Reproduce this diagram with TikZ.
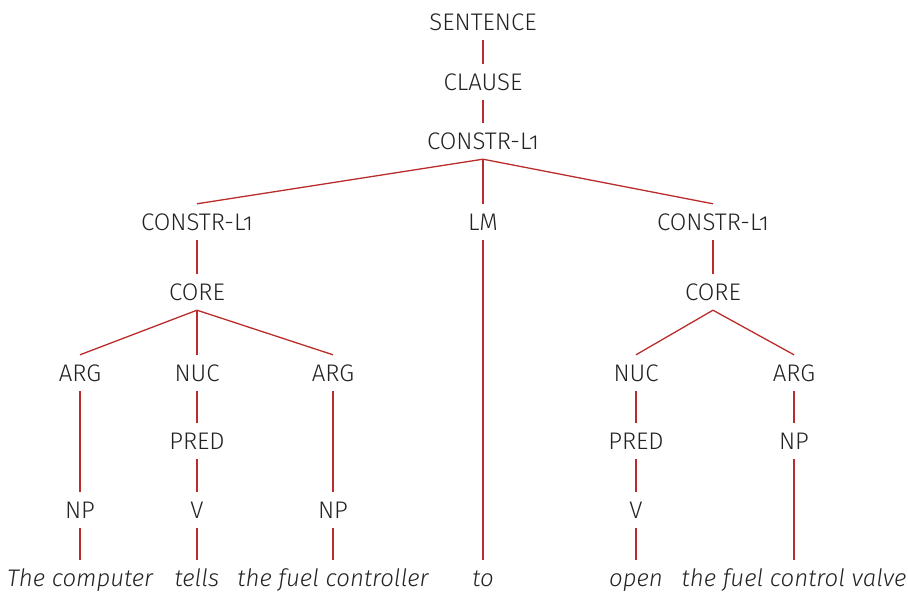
\documentclass[tikz,border=0pt]{standalone}
\usepackage{fontspec}
\setmainfont{Fira Sans}[UprightFont=* Light, ItalicFont=* Light Italic, Numbers=OldStyle]
\definecolor{edgered}{RGB}{186,44,44}
\definecolor{txtgray}{RGB}{34,34,34}

\begin{document}
\begin{tikzpicture}[x=1pt, y=-1pt,
    lbl/.style={inner sep=0pt, minimum height=36pt, text height=16.5pt, text depth=0pt, text=txtgray, font=\fontsize{24}{28}\selectfont},
    word/.style={lbl, font=\fontsize{24}{28}\selectfont\itshape},
    edge/.style={edgered, line width=1.3pt}]

\useasboundingbox (0,0) rectangle (908,593);

% upper spine
\node[lbl] (sent) at (483,22) {SENTENCE};
\node[lbl] (clause) at (483,82) {CLAUSE};
\node[lbl] (cons) at (483,141) {CONSTR-L1};

\node[lbl] (consL) at (197,222) {CONSTR-L1};
\node[lbl] (lm) at (483,222) {LM};
\node[lbl] (consR) at (713,222) {CONSTR-L1};

% left core
\node[lbl] (coreL) at (197,292) {CORE};
\node[lbl] (argA) at (80,373) {ARG};
\node[lbl] (nucL) at (197,373) {NUC};
\node[lbl] (argB) at (333,373) {ARG};
\node[lbl] (predL) at (197,441) {PRED};
\node[lbl] (npA) at (80,510) {NP};
\node[lbl] (vL) at (197,510) {V};
\node[lbl] (npB) at (333,510) {NP};

% right core
\node[lbl] (coreR) at (713,292) {CORE};
\node[lbl] (nucR) at (636,373) {NUC};
\node[lbl] (argC) at (794,373) {ARG};
\node[lbl] (predR) at (636,441) {PRED};
\node[lbl] (npC) at (794,441) {NP};
\node[lbl] (vR) at (636,510) {V};

% words
\node[word] (w1) at (80,578) {The computer};
\node[word] (w2) at (197,578) {tells};
\node[word] (w3) at (333,578) {the fuel controller};
\node[word] (w4) at (483,578) {to};
\node[word] (w5) at (636,578) {open};
\node[word] (w6) at (794,578) {the fuel control valve};

\draw[edge] (sent.south) -- (clause.north);
\draw[edge] (clause.south) -- (cons.north);
\foreach \c in {consL, lm, consR}
    \draw[edge] (cons.south) -- (\c.north);

\draw[edge] (consL.south) -- (coreL.north);
\foreach \c in {argA, nucL, argB}
    \draw[edge] (coreL.south) -- (\c.north);
\draw[edge] (argA.south) -- (npA.north);
\draw[edge] (nucL.south) -- (predL.north);
\draw[edge] (predL.south) -- (vL.north);
\draw[edge] (argB.south) -- (npB.north);

\draw[edge] (consR.south) -- (coreR.north);
\foreach \c in {nucR, argC}
    \draw[edge] (coreR.south) -- (\c.north);
\draw[edge] (nucR.south) -- (predR.north);
\draw[edge] (predR.south) -- (vR.north);
\draw[edge] (argC.south) -- (npC.north);

\draw[edge] (npA.south) -- (w1.north);
\draw[edge] (vL.south) -- (w2.north);
\draw[edge] (npB.south) -- (w3.north);
\draw[edge] (lm.south) -- (w4.north);
\draw[edge] (vR.south) -- (w5.north);
\draw[edge] (npC.south) -- (w6.north);

\end{tikzpicture}
\end{document}
